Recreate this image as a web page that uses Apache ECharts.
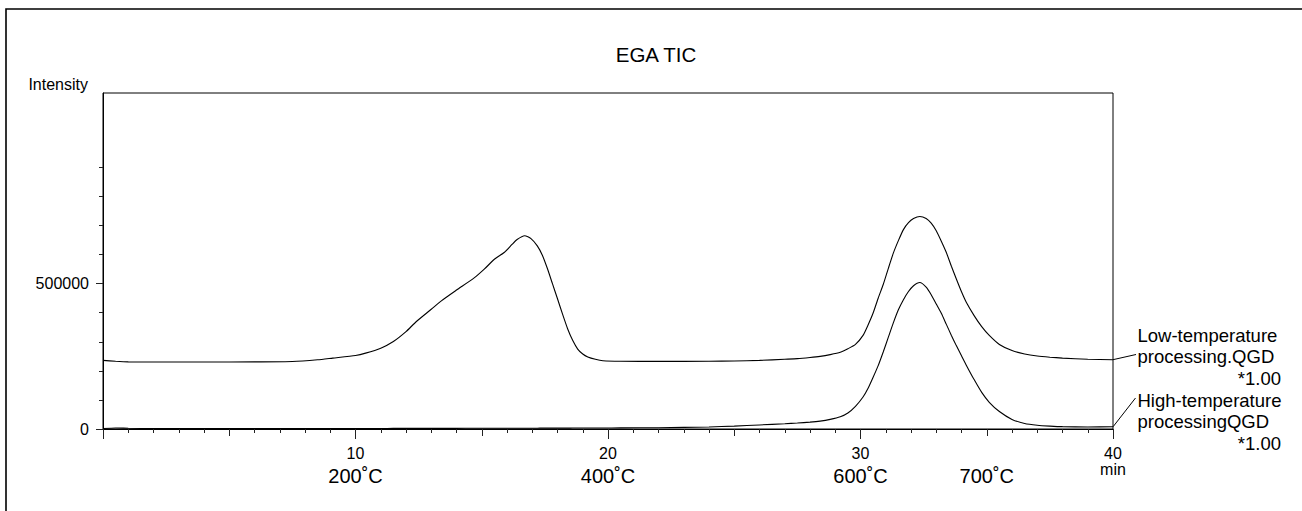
<!DOCTYPE html>
<html>
<head>
<meta charset="utf-8">
<script src="https://cdn.jsdelivr.net/npm/echarts@6/dist/echarts.min.js"></script>
<style>
html,body{margin:0;padding:0;background:#fff;}
#chart{width:1302px;height:511px;}
</style>
</head>
<body>
<div id="chart"></div>
<script>
// ---- data (minutes, intensity) ----
const times = [0, 0.5, 1, 2, 4, 6, 7.5, 8.5, 9.1, 10, 10.4, 11, 11.5, 12, 12.4, 13, 13.4, 14, 14.7, 15.1, 15.5, 15.9, 16.2, 16.4, 16.7, 16.95, 17.2, 17.4, 17.6, 17.8, 18.0, 18.2, 18.4, 18.6, 18.8, 19.0, 19.2, 19.5, 19.8, 20.5, 22, 24, 25, 26, 27, 27.5, 28, 28.4, 28.8, 29.2, 29.5, 29.8, 30.1, 30.3, 30.5, 30.7, 30.9, 31.1, 31.3, 31.5, 31.7, 31.9, 32.1, 32.35, 32.6, 32.8, 33.0, 33.2, 33.4, 33.6, 33.8, 34.0, 34.2, 34.5, 34.8, 35.1, 35.5, 36.0, 36.5, 37.0, 37.5, 38.0, 39.0, 40];
const lowTemp = [236000, 233000, 231000, 230500, 230500, 231000, 232000, 238000, 244000, 253000, 261000, 278000, 301000, 335000, 369000, 412000, 441000, 478000, 520000, 550000, 584000, 608000, 635000, 652000, 665000, 655000, 630000, 598000, 552000, 500000, 448000, 395000, 345000, 305000, 275000, 258000, 248000, 240000, 235000, 233000, 232500, 233000, 234000, 236000, 240000, 242000, 246000, 250000, 256000, 264000, 276000, 291000, 322000, 358000, 399000, 450000, 497000, 552000, 605000, 648000, 686000, 710000, 724000, 731000, 724000, 708000, 682000, 646000, 607000, 560000, 515000, 472000, 434000, 390000, 352000, 322000, 291000, 270000, 258000, 251000, 247000, 244000, 240000, 238500];
const highTemp = [1500, 3500, 2500, 1500, 1500, 1500, 1500, 1600, 1700, 1800, 1800, 1900, 2000, 2000, 2100, 2200, 2200, 2300, 2400, 2500, 2500, 2600, 2600, 2700, 2700, 2800, 2800, 2900, 2900, 3000, 3000, 3100, 3100, 3200, 3200, 3300, 3300, 3400, 3500, 3700, 4500, 7000, 10000, 14000, 18000, 20500, 23500, 27000, 33000, 42000, 55000, 78000, 110000, 140000, 178000, 218000, 265000, 315000, 365000, 410000, 445000, 473000, 493000, 504000, 488000, 462000, 430000, 398000, 360000, 322000, 286000, 252000, 218000, 170000, 126000, 92000, 60000, 33000, 19000, 13000, 10000, 8000, 7000, 7500];

const xLabelValues = [10, 20, 30, 40];
const tempTicks = [10, 20, 30, 35];
const tempLabels = ['200˚C', '400˚C', '600˚C', '700˚C'];
const yLabelValues = [0, 500000];
const yMinorTicks = [0, 100000, 200000, 300000, 400000, 500000, 600000, 700000, 800000, 900000];
const yMajorTicks = [0, 500000];
const lowName = ['Low-temperature', 'processing.QGD', '*1.00'];
const highName = ['High-temperature', 'processingQGD', '*1.00'];
const titleText = 'EGA TIC';
const yName = 'Intensity';

const FONT = "'Liberation Sans', Arial, sans-serif";
const lowData = times.map((t, i) => [t, lowTemp[i]]);
const highData = times.map((t, i) => [t, highTemp[i]]);

const chart = echarts.init(document.getElementById('chart'), null, {renderer: 'svg'});
const hidden = {show: false};

chart.setOption({
  animation: false,
  backgroundColor: '#fff',
  textStyle: {fontFamily: FONT},
  grid: {left: 103, top: 93, width: 1010, height: 336, show: true, borderColor: '#000', borderWidth: 1, backgroundColor: 'transparent'},
  xAxis: [
    {
      type: 'value', min: 0, max: 40, interval: 10, position: 'bottom',
      axisLine: {show: true, lineStyle: {color: '#000', width: 1}},
      axisTick: {show: true, length: 10, lineStyle: {color: '#222', width: 1}},
      minorTick: {show: true, splitNumber: 10, length: 4, lineStyle: {color: '#222', width: 1}},
      splitLine: hidden, minorSplitLine: hidden,
      axisLabel: {
        customValues: xLabelValues, margin: 16, fontSize: 16, color: '#000', fontFamily: FONT, lineHeight: 16,
        formatter: v => v === 40 ? '40\nmin' : String(v)
      }
    },
    {
      type: 'value', min: 0, max: 40, interval: 5, position: 'bottom',
      axisLine: hidden, splitLine: hidden, axisLabel: hidden,
      axisTick: {show: true, length: 7, lineStyle: {color: '#222', width: 1}}
    },
    {
      type: 'value', min: 0, max: 40, interval: 5, position: 'bottom',
      axisLine: hidden, splitLine: hidden, axisTick: hidden,
      axisLabel: {
        customValues: tempTicks, margin: 37, fontSize: 20, color: '#000', fontFamily: FONT,
        formatter: v => tempLabels[tempTicks.indexOf(v)] || ''
      }
    }
  ],
  yAxis: [
    {
      type: 'value', min: 0, max: 1156000, interval: 100000, position: 'left',
      axisLine: {show: true, lineStyle: {color: '#000', width: 1}},
      axisTick: {show: true, customValues: yMinorTicks, length: 4, lineStyle: {color: '#222', width: 1}},
      splitLine: hidden,
      axisLabel: {customValues: yLabelValues, margin: 14, fontSize: 16, color: '#000', fontFamily: FONT,
                  formatter: v => String(v)}
    },
    {
      type: 'value', min: 0, max: 1156000, interval: 100000, position: 'left',
      axisLine: hidden, splitLine: hidden, axisLabel: hidden,
      axisTick: {show: true, customValues: yMajorTicks, length: 7, lineStyle: {color: '#222', width: 1}}
    }
  ],
  series: [
    {name: 'Low-temperature processing.QGD', type: 'line', data: lowData, showSymbol: false, symbol: 'none', smooth: 0.2,
     lineStyle: {color: '#000', width: 1.1}, xAxisIndex: 0, yAxisIndex: 0},
    {name: 'High-temperature processingQGD', type: 'line', data: highData, showSymbol: false, symbol: 'none', smooth: 0.2,
     lineStyle: {color: '#000', width: 1.1}, xAxisIndex: 0, yAxisIndex: 0}
  ]
});

const lowEnd = chart.convertToPixel({xAxisIndex: 0, yAxisIndex: 0}, lowData[lowData.length - 1]);
const highEnd = chart.convertToPixel({xAxisIndex: 0, yAxisIndex: 0}, highData[highData.length - 1]);

function txt(x, y, text, size, align) {
  return {type: 'text', x: x, y: y, style: {text: text, fontSize: size, fontFamily: FONT, fill: '#000', textAlign: align || 'left', textVerticalAlign: 'middle'}, silent: true};
}

chart.setOption({
  graphic: [
    {type: 'rect', shape: {x: 6, y: 9, width: 1400, height: 600}, style: {fill: 'none', stroke: '#000', lineWidth: 1.6}, silent: true, z: -1},
    txt(656, 54, titleText, 20.5, 'center'),
    txt(88, 84, yName, 16, 'right'),
    {type: 'line', shape: {x1: lowEnd[0], y1: lowEnd[1], x2: 1136, y2: 354.5}, style: {stroke: '#000', lineWidth: 1}, silent: true},
    {type: 'line', shape: {x1: highEnd[0], y1: highEnd[1], x2: 1135.5, y2: 398}, style: {stroke: '#000', lineWidth: 1}, silent: true},
    txt(1137.5, 335, lowName[0], 18.5),
    txt(1137.5, 356.7, lowName[1], 18.5),
    txt(1281, 378.3, lowName[2], 18.5, 'right'),
    txt(1137.5, 400, highName[0], 18.5),
    txt(1137.5, 421.7, highName[1], 18.5),
    txt(1281, 443.3, highName[2], 18.5, 'right')
  ]
});
</script>
</body>
</html>
